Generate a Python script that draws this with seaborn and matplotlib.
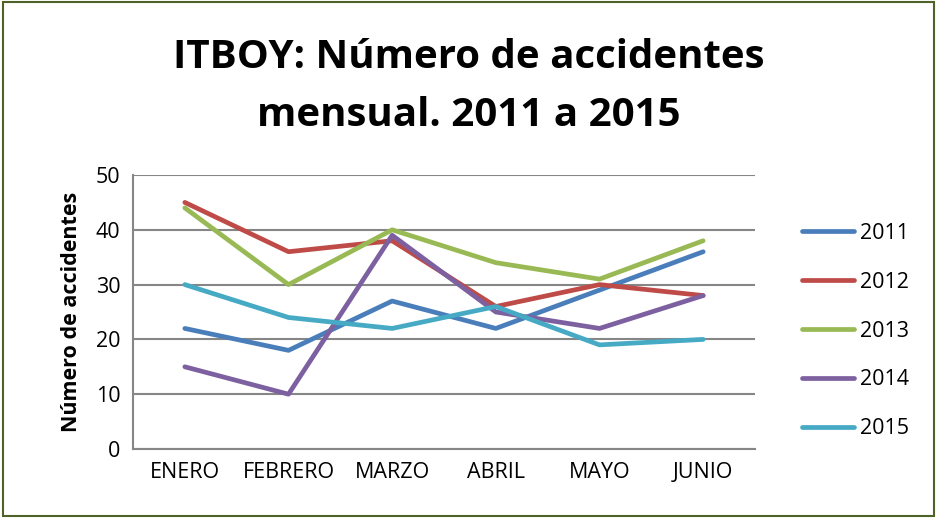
import pandas as pd
import matplotlib
matplotlib.use("Agg")
import matplotlib.pyplot as plt
import seaborn as sns
from matplotlib.patches import Rectangle

# === Data ===
meses = ["ENERO", "FEBRERO", "MARZO", "ABRIL", "MAYO", "JUNIO"]
anios = ["2011", "2012", "2013", "2014", "2015"]
v2011 = [22, 18, 27, 22, 29, 36]
v2012 = [45, 36, 38, 26, 30, 28]
v2013 = [44, 30, 40, 34, 31, 38]
v2014 = [15, 10, 39, 25, 22, 28]
v2015 = [30, 24, 22, 26, 19, 20]
colores = ["#4A7EBB", "#BE4B48", "#98B954", "#7D60A0", "#46AAC5"]

series = [v2011, v2012, v2013, v2014, v2015]
df = pd.DataFrame({
    "mes": meses * len(anios),
    "anio": [a for a in anios for _ in meses],
    "accidentes": [v for s in series for v in s],
})
df["x"] = df["mes"].map({m: i for i, m in enumerate(meses)})

sns.set_style("white")
plt.rcParams["font.family"] = ["Open Sans", "DejaVu Sans"]
plt.rcParams["text.color"] = "black"
plt.rcParams["axes.labelcolor"] = "black"
plt.rcParams["xtick.color"] = "black"
plt.rcParams["ytick.color"] = "black"

fig = plt.figure(figsize=(9.37, 5.18), dpi=100)
ax = fig.add_axes([133 / 937, 69 / 518, 622 / 937, 274 / 518])

sns.lineplot(data=df, x="x", y="accidentes", hue="anio", palette=colores,
             linewidth=3.4, ax=ax, sort=False, legend=True)

ax.set_xlim(-0.5, 5.5)
ax.set_ylim(0, 50)
ax.set_yticks(range(0, 51, 10))
ax.set_xticks(range(len(meses)))
ax.set_xticklabels(meses)
ax.yaxis.grid(True, color="#868686", linewidth=1.5)
ax.set_axisbelow(True)
for s in ["top", "right"]:
    ax.spines[s].set_visible(False)
for s in ["left", "bottom"]:
    ax.spines[s].set_color("#868686")
    ax.spines[s].set_linewidth(1.5)
ax.tick_params(axis="both", labelsize=15.5, length=0, pad=9)
ax.set_xlabel("")
ax.set_ylabel("Número de accidentes", fontsize=15.5, fontweight="bold", labelpad=10)

handles, labels = ax.get_legend_handles_labels()
ax.legend_.remove()
fig.legend(handles, labels, loc="center left", bbox_to_anchor=(783 / 937, 1 - 331 / 518),
           frameon=False, fontsize=15.5, handlelength=2.4, labelspacing=1.3, handletextpad=0.3)

fig.text(0.5, 1 - 58 / 518, "ITBOY: Número de accidentes", ha="center", va="center",
         fontsize=29, fontweight="bold")
fig.text(0.5, 1 - 115 / 518, "mensual. 2011 a 2015", ha="center", va="center",
         fontsize=29, fontweight="bold")

fig.patches.append(Rectangle((0.003, 0.004), 0.994, 0.992, transform=fig.transFigure,
                             fill=False, edgecolor="#4F6228", linewidth=1.5))

fig.savefig("out.png", dpi=100)
